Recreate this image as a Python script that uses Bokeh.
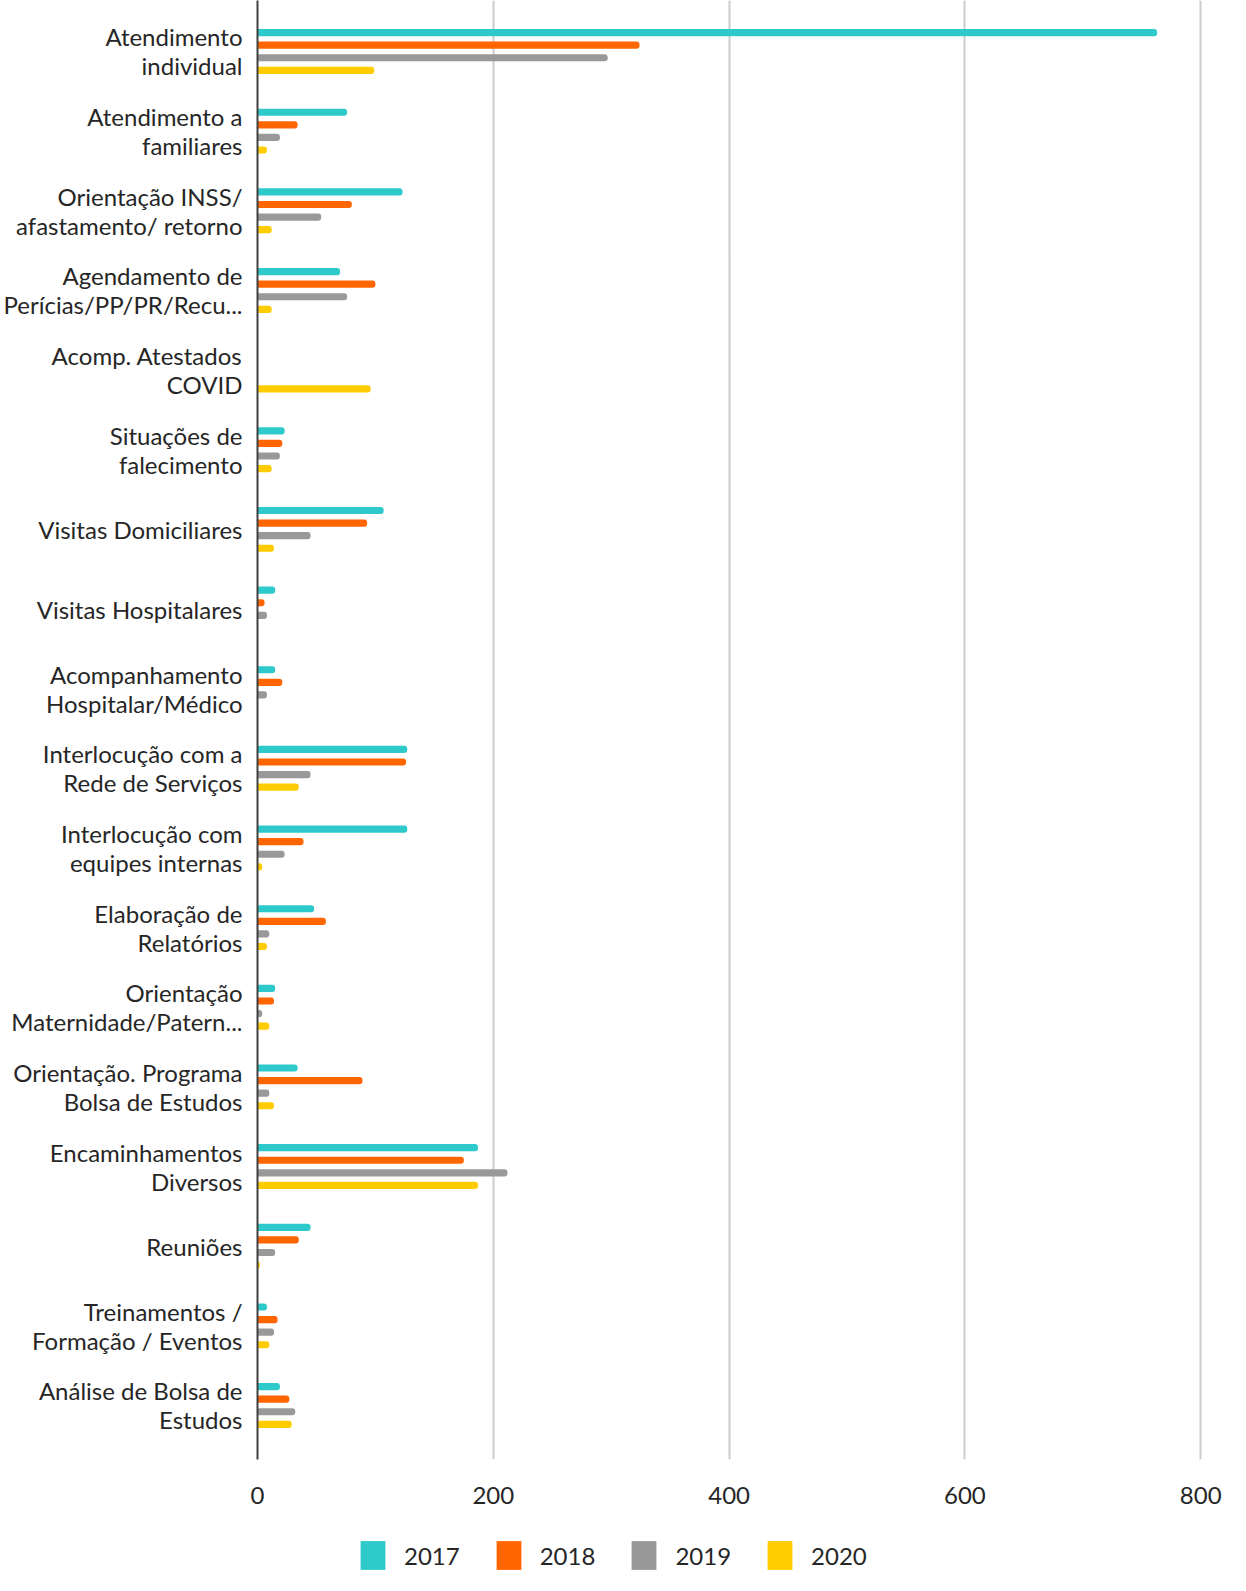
from bokeh.plotting import figure
from bokeh.models import Range1d, FixedTicker, Legend, LegendItem, ColumnDataSource
from bokeh.layouts import column
from bokeh.embed import file_html
from bokeh.resources import INLINE

categories = [
    "Atendimento\nindividual",
    "Atendimento a\nfamiliares",
    "Orientação INSS/\nafastamento/ retorno",
    "Agendamento de\nPerícias/PP/PR/Recu...",
    "Acomp. Atestados\nCOVID",
    "Situações de\nfalecimento",
    "Visitas Domiciliares",
    "Visitas Hospitalares",
    "Acompanhamento\nHospitalar/Médico",
    "Interlocução com a\nRede de Serviços",
    "Interlocução com\nequipes internas",
    "Elaboração de\nRelatórios",
    "Orientação\nMaternidade/Patern...",
    "Orientação. Programa\nBolsa de Estudos",
    "Encaminhamentos\nDiversos",
    "Reuniões",
    "Treinamentos /\nFormação / Eventos",
    "Análise de Bolsa de\nEstudos",
]

years = ["2017", "2018", "2019", "2020"]
v2017 = [763, 76, 123, 70, 0, 23, 107, 15, 15, 127, 127, 48, 15, 34, 187, 45, 8, 19]
v2018 = [324, 34, 80, 100, 0, 21, 93, 6, 21, 126, 39, 58, 14, 89, 175, 35, 17, 27]
v2019 = [297, 19, 54, 76, 0, 19, 45, 8, 8, 45, 23, 10, 4, 10, 212, 15, 14, 32]
v2020 = [99, 8, 12, 12, 96, 12, 14, 0, 0, 35, 4, 8, 10, 14, 187, 2, 10, 29]
series = [v2017, v2018, v2019, v2020]
colors = ["#2ECACB", "#FF6600", "#999999", "#FFCC00"]
x_ticks = [0, 200, 400, 600, 800]

FONT = "Lato"
TEXT_COLOR = "#262626"

p = figure(
    width=1230, height=1530,
    x_range=Range1d(0, 801.5),
    y_range=Range1d(17.678, -0.640),
    output_backend="svg", toolbar_location=None,
    min_border_left=250, min_border_right=28,
    min_border_top=0, min_border_bottom=71,
)
p.outline_line_color = None
p.background_fill_color = "white"
p.border_fill_color = "white"

offsets = [-0.237, -0.079, 0.079, 0.237]
pos = list(range(len(categories)))
for yr, vals, col, off in zip(years, series, colors, offsets):
    src = ColumnDataSource(dict(y=[i + off for i in pos], right=vals))
    p.hbar(y="y", left=0, right="right", height=0.09, source=src,
           fill_color=col, line_color=None,
           border_radius=(0, 3, 3, 0))

# axes
yax = p.yaxis[0]
yax.ticker = FixedTicker(ticks=pos)
yax.major_label_overrides = {i: c for i, c in enumerate(categories)}
yax.axis_line_color = "#404040"
yax.axis_line_width = 2
yax.major_tick_line_color = None
yax.minor_tick_line_color = None
yax.major_tick_out = 0
yax.major_tick_in = 0
yax.major_label_standoff = 15
yax.major_label_text_font = FONT
yax.major_label_text_font_size = "24px"
yax.major_label_text_line_height = 1.0
yax.major_label_text_color = TEXT_COLOR

xax = p.xaxis[0]
xax.ticker = FixedTicker(ticks=x_ticks)
xax.axis_line_color = None
xax.major_tick_line_color = None
xax.minor_tick_line_color = None
xax.major_tick_out = 0
xax.major_tick_in = 0
xax.major_label_standoff = 27
xax.major_label_text_font = FONT
xax.major_label_text_font_size = "24px"
xax.major_label_text_color = TEXT_COLOR

p.ygrid.visible = False
p.xgrid.ticker = FixedTicker(ticks=x_ticks)
p.xgrid.grid_line_color = "#cccccc"
p.xgrid.grid_line_width = 2

# legend strip (keys only; their single bar lies outside the visible range)
pl = figure(
    width=1230, height=45,
    x_range=Range1d(0, 1), y_range=Range1d(0, 1),
    output_backend="svg", toolbar_location=None,
    x_axis_location=None, y_axis_location=None,
    min_border=0,
)
pl.outline_line_color = None
pl.grid.visible = False
items = []
for yr, col in zip(years, colors):
    r = pl.hbar(y=[-5], left=[0], right=[1], height=0.5, fill_color=col,
                line_color=None, border_radius=2)
    items.append(LegendItem(label=yr, renderers=[r]))

legend = Legend(
    items=items, orientation="horizontal",
    location=(100, 2),
    border_line_color=None, background_fill_alpha=0,
    padding=0, margin=0, spacing=33,
    glyph_width=31, glyph_height=36, label_standoff=16,
    label_width=52, label_height=36,
    label_text_font=FONT, label_text_font_size="24px",
    label_text_color=TEXT_COLOR,
)
pl.add_layout(legend, "center")

layout = column(p, pl, spacing=0)
open("out.html", "w").write(file_html(layout, INLINE))
